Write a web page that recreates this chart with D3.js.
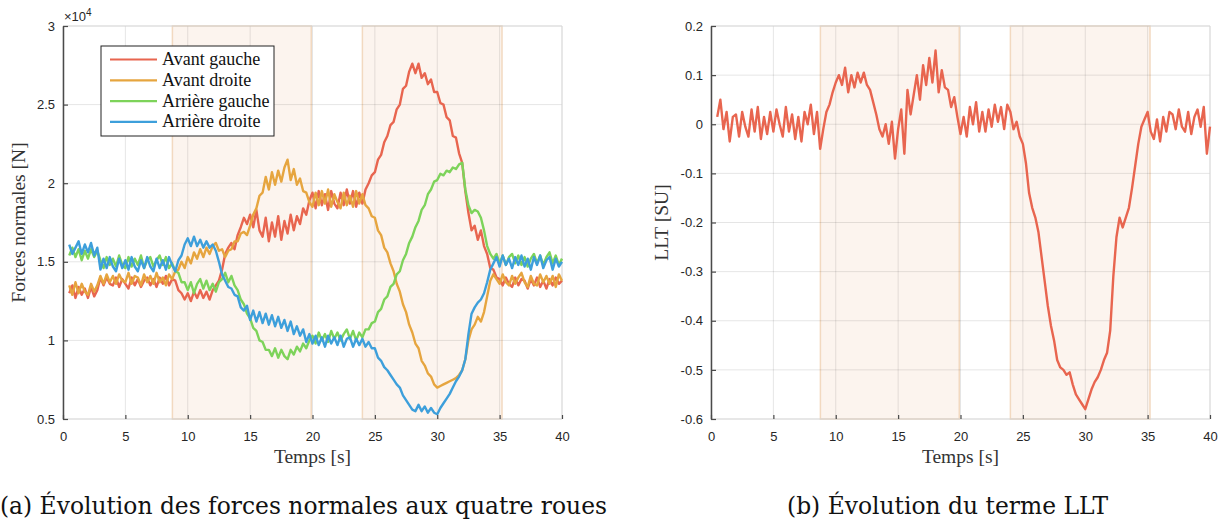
<!DOCTYPE html>
<html><head><meta charset="utf-8">
<script src="https://cdn.jsdelivr.net/npm/d3@7"></script>
<style>body{margin:0;background:#fff}svg{display:block}</style>
</head><body>
<svg id="c" width="1220" height="521"></svg>
<script>
// ---- sampling axis (s) ----
const timeStart = 0.5, timeStep = 0.25, timeEnd = 40;
const times = d3.range(timeStart, timeEnd + 1e-9, timeStep);

// ---- normal forces (x 10^4 N), one value per 0.25 s from 0.5 s ----
const avantGauche = [
 1.30,1.35,
 1.27,1.34,1.29,1.33, 1.27,1.34,1.28,1.32, 1.40,1.35,1.40,1.36, 1.35,1.40,1.34,1.39,
 1.36,1.33,1.40,1.35, 1.39,1.34,1.38,1.40, 1.35,1.39,1.34,1.40, 1.36,1.41,1.35,1.39,
 1.38,1.32,1.30,1.26, 1.30,1.25,1.31,1.27, 1.32,1.27,1.31,1.26, 1.32,1.35,1.38,1.45,
 1.55,1.59,1.62,1.58, 1.67,1.72,1.78,1.74, 1.80,1.72,1.83,1.70, 1.66,1.78,1.63,1.75,
 1.66,1.79,1.64,1.76, 1.68,1.80,1.70,1.79, 1.74,1.84,1.80,1.89, 1.94,1.84,1.95,1.86,
 1.93,1.83,1.95,1.87, 1.84,1.94,1.86,1.96, 1.87,1.95,1.85,1.94, 1.87,1.96,2.00,2.05,
 2.07,2.15,2.18,2.26, 2.30,2.37,2.39,2.47, 2.50,2.60,2.62,2.71, 2.76,2.70,2.76,2.67,
 2.70,2.63,2.66,2.58, 2.58,2.51,2.50,2.42, 2.40,2.30,2.29,2.19, 2.13,1.95,1.81,1.70,
 1.73,1.64,1.70,1.60, 1.55,1.46,1.45,1.40, 1.39,1.35,1.40,1.36, 1.34,1.40,1.35,1.39,
 1.38,1.33,1.39,1.35, 1.40,1.34,1.38,1.33, 1.39,1.35,1.40,1.36,
 1.38];
const avantDroite = [
 1.35,1.29,
 1.37,1.30,1.36,1.31, 1.29,1.36,1.31,1.35, 1.41,1.36,1.42,1.37, 1.41,1.36,1.42,1.38,
 1.37,1.43,1.36,1.41, 1.40,1.35,1.42,1.37, 1.41,1.36,1.43,1.37, 1.40,1.35,1.42,1.39,
 1.44,1.45,1.50,1.46, 1.53,1.49,1.56,1.52, 1.58,1.53,1.59,1.55, 1.60,1.62,1.57,1.58,
 1.53,1.57,1.58,1.63, 1.63,1.68,1.69,1.67, 1.73,1.80,1.84,1.92, 1.94,2.04,1.96,2.07,
 1.99,2.08,2.01,2.10, 2.15,2.02,2.09,1.99, 2.03,1.95,1.94,1.88, 1.85,1.94,1.86,1.95,
 1.87,1.96,1.85,1.93, 1.88,1.84,1.94,1.86, 1.92,1.85,1.95,1.87, 1.93,1.86,1.84,1.79,
 1.78,1.70,1.67,1.59, 1.56,1.49,1.44,1.36, 1.31,1.23,1.18,1.10, 1.05,0.98,0.95,0.87,
 0.84,0.79,0.77,0.72, 0.70,0.71,0.72,0.73, 0.74,0.75,0.76,0.78, 0.81,0.88,1.00,1.07,
 1.10,1.15,1.12,1.18, 1.28,1.38,1.42,1.39, 1.36,1.42,1.37,1.35, 1.41,1.36,1.40,1.43,
 1.37,1.34,1.41,1.36, 1.35,1.42,1.37,1.41, 1.36,1.41,1.34,1.42,
 1.38];
const arriereGauche = [
 1.54,1.59,
 1.53,1.58,1.51,1.57, 1.52,1.58,1.53,1.57, 1.51,1.46,1.53,1.48, 1.52,1.47,1.54,1.48,
 1.46,1.53,1.47,1.52, 1.48,1.54,1.46,1.51, 1.53,1.47,1.51,1.54, 1.48,1.53,1.46,1.49,
 1.44,1.43,1.37,1.37, 1.32,1.37,1.30,1.36, 1.39,1.33,1.38,1.32, 1.36,1.31,1.37,1.39,
 1.43,1.37,1.41,1.35, 1.32,1.26,1.23,1.17, 1.14,1.08,1.06,1.00, 0.99,0.94,0.94,0.90,
 0.95,0.89,0.94,0.90, 0.88,0.94,0.91,0.96, 0.93,0.98,0.95,1.00, 1.03,0.98,1.05,1.00,
 1.04,0.99,1.06,1.01, 1.05,1.00,1.04,1.07, 1.01,1.06,1.00,1.05, 1.02,1.07,1.07,1.11,
 1.12,1.18,1.20,1.26, 1.28,1.34,1.36,1.42, 1.44,1.51,1.55,1.62, 1.66,1.72,1.76,1.83,
 1.86,1.93,1.96,2.01, 2.02,2.06,2.05,2.08, 2.07,2.10,2.09,2.12, 2.13,1.96,1.86,1.81,
 1.83,1.82,1.78,1.70, 1.60,1.55,1.52,1.55, 1.49,1.54,1.48,1.53, 1.55,1.49,1.54,1.48,
 1.53,1.47,1.52,1.55, 1.49,1.54,1.48,1.53, 1.56,1.49,1.54,1.48,
 1.52];
const arriereDroite = [
 1.61,1.55,
 1.59,1.63,1.55,1.61, 1.56,1.62,1.54,1.59, 1.45,1.52,1.46,1.53, 1.47,1.44,1.52,1.46,
 1.51,1.45,1.53,1.47, 1.44,1.51,1.46,1.53, 1.47,1.44,1.52,1.46, 1.51,1.45,1.53,1.48,
 1.44,1.51,1.54,1.61, 1.65,1.60,1.66,1.60, 1.64,1.59,1.63,1.59, 1.61,1.57,1.50,1.42,
 1.38,1.34,1.33,1.29, 1.28,1.21,1.19,1.22, 1.13,1.19,1.12,1.18, 1.11,1.17,1.10,1.16,
 1.09,1.15,1.08,1.13, 1.06,1.12,1.04,1.09, 1.03,1.07,0.99,1.04, 0.98,1.03,0.97,1.02,
 0.96,1.03,0.98,1.02, 0.97,1.03,0.96,1.01, 1.02,0.96,1.01,0.97, 1.01,0.96,0.99,0.95,
 0.95,0.89,0.87,0.83, 0.81,0.78,0.75,0.72, 0.70,0.65,0.62,0.59, 0.56,0.55,0.59,0.55,
 0.58,0.54,0.57,0.54, 0.53,0.57,0.60,0.63, 0.66,0.70,0.74,0.77, 0.81,0.88,1.04,1.17,
 1.21,1.24,1.26,1.30, 1.37,1.45,1.49,1.53, 1.47,1.54,1.48,1.52, 1.46,1.53,1.48,1.54,
 1.47,1.52,1.45,1.53, 1.48,1.54,1.46,1.51, 1.53,1.45,1.52,1.47,
 1.50];

// ---- LLT term (SU) ----
const llt = [
 0.015,0.05,
 -0.01,0.025,-0.035,0.015, 0.02,-0.025,0.025,-0.005, -0.025,0.03,-0.015,0.035, -0.03,0.015,-0.02,0.025,
 -0.015,0.03,0.0,-0.025, 0.035,-0.015,0.02,-0.03, 0.015,-0.035,0.025,0.0, 0.04,-0.02,0.025,-0.05,
 -0.01,0.025,0.04,0.065, 0.085,0.10,0.08,0.115, 0.065,0.10,0.075,0.105, 0.085,0.105,0.08,0.07,
 0.045,0.02,-0.01,-0.025, 0.0,-0.04,0.005,-0.07, -0.01,0.03,-0.06,0.07, 0.02,0.06,0.10,0.05,
 0.12,0.08,0.135,0.085, 0.15,0.065,0.11,0.075, 0.07,0.035,0.055,0.015, -0.02,0.015,-0.025,0.035,
 0.0,0.045,-0.015,0.025, -0.015,0.03,-0.005,0.04, 0.005,0.035,-0.01,0.04, 0.025,-0.01,0.005,-0.025,
 -0.04,-0.08,-0.14,-0.17, -0.19,-0.22,-0.27,-0.32, -0.37,-0.41,-0.44,-0.48, -0.495,-0.50,-0.51,-0.505,
 -0.53,-0.55,-0.56,-0.57, -0.58,-0.56,-0.54,-0.525, -0.515,-0.50,-0.48,-0.465, -0.42,-0.31,-0.23,-0.19,
 -0.21,-0.19,-0.17,-0.13, -0.085,-0.04,-0.005,0.01, 0.025,-0.015,-0.03,0.01, -0.035,0.015,-0.015,0.025,
 0.02,-0.01,0.03,-0.005, -0.015,0.025,-0.02,0.015, 0.03,-0.005,0.035,-0.06,
 -0.005];

const seriesNames = ["Avant gauche","Avant droite","Arrière gauche","Arrière droite"];
const seriesColors = ["#e8654f","#e6a53f","#7dd35a","#3d9fdb"];
const forceSeries = [avantGauche, avantDroite, arriereGauche, arriereDroite];

const xTicks = [0,5,10,15,20,25,30,35,40];
const forceTicks = [0.5,1,1.5,2,2.5,3];
const lltTicks = [-0.6,-0.5,-0.4,-0.3,-0.2,-0.1,0,0.1,0.2];
const shadeStart = [8.77, 24.0];
const shadeEnd = [19.9, 35.19];

const captions = ["(a) Évolution des forces normales aux quatre roues", "(b) Évolution du terme LLT"];

const svg = d3.select("#c");
const tickFont = "'Liberation Sans', Arial, sans-serif";
const serif = "'Liberation Serif', 'Times New Roman', serif";

function panel(o) {
  const x = d3.scaleLinear().domain([0, 40]).range([o.left, o.right]);
  const y = d3.scaleLinear().domain(o.yDomain).range([o.bottom, o.top]);
  const g = svg.append("g");
  g.selectAll("rect.shade").data(shadeStart.map((s, i) => [s, shadeEnd[i]])).join("rect")
    .attr("x", d => x(d[0])).attr("width", d => x(d[1]) - x(d[0]))
    .attr("y", o.top).attr("height", o.bottom - o.top)
    .attr("fill", "#fcf4ee").attr("stroke", "#f2d9c0").attr("stroke-width", 1.5);
  g.selectAll("line.gx").data(xTicks).join("line")
    .attr("x1", d => x(d)).attr("x2", d => x(d)).attr("y1", o.top).attr("y2", o.bottom)
    .attr("stroke", "rgba(0,0,0,0.1)").attr("stroke-width", 1);
  g.selectAll("line.gy").data(o.ticks).join("line")
    .attr("y1", d => y(d)).attr("y2", d => y(d)).attr("x1", o.left).attr("x2", o.right)
    .attr("stroke", "rgba(0,0,0,0.1)").attr("stroke-width", 1);
  g.append("path").attr("d", `M${o.left},${o.top}H${o.right}V${o.bottom}H${o.left}`)
    .attr("fill", "none").attr("stroke", "#dcdcdc").attr("stroke-width", 1);
  const line = d3.line().x((d, i) => x(times[i])).y(d => y(d));
  o.series.forEach((s, k) => {
    g.append("path").datum(s).attr("d", line).attr("fill", "none")
      .attr("stroke", o.colors[k]).attr("stroke-width", 2.4).attr("stroke-linejoin", "round");
  });
  const fmt = v => String(+v.toFixed(1));
  const ax = g.append("g").attr("transform", `translate(0,${o.bottom})`)
    .call(d3.axisBottom(x).tickValues(xTicks).tickFormat(fmt).tickSizeInner(-4).tickSizeOuter(0).tickPadding(13));
  ax.select(".domain").remove();
  const ay = g.append("g").attr("transform", `translate(${o.left},0)`)
    .call(d3.axisLeft(y).tickValues(o.ticks).tickFormat(fmt).tickSizeInner(-5).tickSizeOuter(0).tickPadding(8));
  ay.select(".domain").attr("stroke", "#4a4a4a").attr("stroke-width", 1.5);
  [ax, ay].forEach(a => {
    a.selectAll(".tick line").attr("stroke", "#4a4a4a").attr("stroke-width", 1.2);
    a.selectAll(".tick text").attr("fill", "#262626").style("font-family", tickFont).style("font-size", "13px");
  });
  g.append("text").attr("x", (o.left + o.right) / 2).attr("y", 463).attr("text-anchor", "middle")
    .style("font-family", serif).style("font-size", "19.5px").attr("fill", "#333").text("Temps [s]");
  g.append("text").attr("transform", `translate(${o.ylabelX},${(o.top + o.bottom) / 2}) rotate(-90)`)
    .attr("text-anchor", "middle").style("font-family", serif).style("font-size", "19.5px").attr("fill", "#333")
    .text(o.ylabel);
  return { x, y, g };
}

panel({ left: 63, right: 562, top: 26, bottom: 419, yDomain: [0.5, 3], ticks: forceTicks,
  series: forceSeries, colors: seriesColors, ylabel: "Forces normales [N]", ylabelX: 25 });
panel({ left: 711, right: 1210, top: 26, bottom: 419, yDomain: [-0.6, 0.2], ticks: lltTicks,
  series: [llt], colors: [seriesColors[0]], ylabel: "LLT [SU]", ylabelX: 668 });

const ex = svg.append("text").attr("x", 64).attr("y", 21).style("font-family", tickFont).style("font-size", "13px").attr("fill", "#262626");
ex.append("tspan").text("×10");
ex.append("tspan").attr("dy", -5).style("font-size", "10px").text("4");

const lg = svg.append("g").attr("transform", "translate(101,46)");
lg.append("rect").attr("width", 173).attr("height", 90).attr("fill", "#fff").attr("stroke", "#222").attr("stroke-width", 1);
seriesNames.forEach((n, i) => {
  const yy = 13.5 + i * 20.8;
  lg.append("line").attr("x1", 9).attr("x2", 56).attr("y1", yy).attr("y2", yy).attr("stroke", seriesColors[i]).attr("stroke-width", 2.2);
  lg.append("text").attr("x", 61).attr("y", yy + 5.5).style("font-family", serif).style("font-size", "18px").attr("fill", "#111").text(n);
});

const capX = [0, 787], capW = [607, 321];
captions.forEach((c, i) => {
  svg.append("text").attr("x", capX[i]).attr("y", 514).attr("textLength", capW[i]).attr("lengthAdjust", "spacingAndGlyphs")
    .style("font-family", "'DejaVu Serif Condensed', 'Liberation Serif', serif").style("font-size", "25px").attr("fill", "#111").text(c);
});
</script>
</body></html>
